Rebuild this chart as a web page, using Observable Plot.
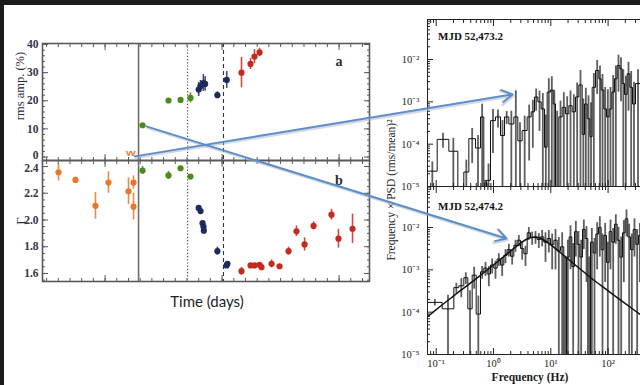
<!DOCTYPE html>
<html><head><meta charset="utf-8">
<script src="https://cdn.jsdelivr.net/npm/d3@7"></script>
<script src="https://cdn.jsdelivr.net/npm/@observablehq/plot@0.6"></script>
<style>
html,body{margin:0;padding:0;background:#fff;overflow:hidden;}
#wrap{position:relative;width:640px;height:385px;background:#fff;overflow:hidden;}
.abs{position:absolute;}
.abs svg{max-width:none !important;}
.lbl{position:absolute;white-space:nowrap;line-height:1;}
.rot{transform:translate(-50%,-50%) rotate(-90deg);}
.ctr{transform:translate(-50%,-50%);}
.lft{transform:translate(0,-50%);}
</style></head><body><div id="wrap"></div>
<script>
// ---------------- Panel a : rms amplitude (%) ----------------
const rmsOrangeT = [52473.0, 52473.4];
const rmsOrange = [0.4, 0.4];                 // upper limits, drawn as "v"
const rmsGreenT = [52474.2, 52476.42, 52477.45, 52478.3];
const rmsGreen = [11.3, 20.1, 20.3, 21.0];
const rmsGreenErr = [0.4, 0.4, 0.4, 1.8];
const rmsNavyT = [52479.0, 52479.15, 52479.4, 52479.55, 52480.6, 52481.4];
const rmsNavy = [24.0, 25.2, 26.3, 26.0, 22.0, 27.4];
const rmsNavyErr = [2.5, 2.0, 3.0, 2.5, 1.2, 3.0];
const rmsRedT = [52482.66, 52483.43, 52483.77, 52484.2];
const rmsRed = [30.0, 33.1, 35.7, 37.2];
const rmsRedErr = [5.4, 2.0, 2.5, 1.5];

// ---------------- Panel b : photon index Γ ----------------
const gamOrangeT = [52467.02, 52468.47, 52470.18, 52471.29, 52473.0, 52473.43, 52473.43];
const gamOrange = [2.357, 2.30, 2.106, 2.28, 2.215, 2.28, 2.10];
const gamOrangeErr = [0.065, 0.02, 0.1, 0.08, 0.1, 0.05, 0.1];
const gamGreenT = [52474.2, 52476.42, 52477.45, 52478.3];
const gamGreen = [2.37, 2.333, 2.387, 2.325];
const gamGreenErr = [0.03, 0.03, 0.015, 0.015];
const gamNavyT = [52479.0, 52479.16, 52479.33, 52479.41, 52479.44, 52480.6, 52481.46, 52481.38];
const gamNavy = [2.09, 2.067, 1.976, 1.95, 1.92, 1.767, 1.672, 1.66];
const gamNavyErr = [0.01, 0.01, 0.01, 0.01, 0.01, 0.03, 0.015, 0.015];
const gamRedT = [52482.66, 52483.43, 52483.77, 52484.2, 52484.37, 52485.23, 52485.91, 52486.68, 52487.36, 52488.05, 52488.82, 52490.35, 52490.95, 52492.15];
const gamRed = [1.617, 1.66, 1.66, 1.665, 1.647, 1.672, 1.654, 1.767, 1.916, 1.817, 1.956, 2.04, 1.86, 1.934];
const gamRedErr = [0.03, 0.01, 0.01, 0.015, 0.015, 0.03, 0.01, 0.03, 0.04, 0.05, 0.03, 0.04, 0.07, 0.11];

// state transitions (MJD) and their line styles
const transitionT = [52473.86, 52478.05, 52481.12];
const transitionDash = [null, "1.2,2", "4,3"];
const transitionColor = ["#6b6b6b", "#444", "#333"];

const stateColor = {orange: "#e8772a", green: "#4c8b1b", navy: "#1d2b5c", red: "#c42a1f"};
const timeDomain = [52465.65, 52493.6];
const rmsTicks = [0, 10, 20, 30, 40];
const gamTicks = [1.6, 1.8, 2.0, 2.2, 2.4];

// ---------------- PSD, MJD 52,473.2 ----------------
const psdTopEdges = [0.0705, 0.1040, 0.1662, 0.2385, 0.3034, 0.3711, 0.4851, 0.5931, 0.6780, 0.7550,
  0.8864, 1.084, 1.325, 1.556, 1.852, 2.264, 2.659, 3.164, 3.869, 4.544,
  5.194, 5.938, 6.789, 7.764, 8.643, 9.88, 11.0, 12.08, 13.81, 15.79,
  18.05, 20.64, 23.60, 26.98, 30.84, 35.27, 38.73, 43.13, 48.01, 52.72,
  60.28, 68.92, 75.69, 84.24, 93.78, 104.4, 116.2, 129.3, 143.9, 160.3,
  176.0, 193.3, 215.2, 239.5, 266.7, 300.8, 367.6, 449.6, 549.5];
const psdTopVal = [2.3e-5, 1.3e-4, 6.8e-5, 0, 2.2e-5, 1.35e-4, 8.1e-5, 4.4e-4, 0, 1.4e-5,
  3.6e-4, 4.4e-4, 1.6e-4, 4.4e-4, 3.0e-4, 4.4e-4, 1.2e-4, 2.1e-4, 4.4e-4, 5.8e-4,
  1.3e-3, 1.0e-3, 6.8e-4, 8.5e-5, 1.7e-3, 1.9e-3, 8.9e-4, 0, 4.4e-4, 7.4e-4,
  5.2e-4, 8.1e-4, 5.8e-4, 1.3e-3, 2.5e-3, 1.7e-4, 8.9e-4, 4.0e-4, 1.5e-4, 2.2e-3,
  5.5e-3, 3.5e-3, 1.9e-3, 6.8e-4, 4.4e-4, 6.8e-4, 1.7e-3, 3.5e-3, 7.2e-3, 6.0e-3,
  2.7e-3, 1.5e-3, 4.6e-3, 2.2e-3, 8.9e-4, 2.7e-3, 3.0e-3, 2.0e-3];
const psdTopErr = [1.5e-5, 5e-5, 7e-5, 1e-5, 2e-5, 1e-4, 8e-5, 4.4e-4, 1.4e-5, 2e-5,
  3e-4, 2e-4, 2e-4, 1.5e-4, 3e-4, 1.4e-3, 2e-4, 2.5e-4, 4e-4, 5e-4,
  7e-4, 8e-4, 9e-4, 4e-4, 1.8e-3, 2e-3, 1e-3, 6e-4, 6e-4, 9e-4,
  8e-4, 1e-3, 9e-4, 1.5e-3, 3e-3, 1e-3, 1.2e-3, 1e-3, 8e-4, 2.5e-3,
  4e-3, 3.5e-3, 2.5e-3, 1.5e-3, 1.5e-3, 1.5e-3, 2.5e-3, 3.5e-3, 5.5e-3, 5e-3,
  3e-3, 2.5e-3, 4e-3, 3e-3, 2e-3, 3e-3, 3e-3, 3e-3];

// ---------------- PSD, MJD 52,474.2 ----------------
const psdBotEdges = [0.0705, 0.1271, 0.2031, 0.2483, 0.3034, 0.3565, 0.4244, 0.4982, 0.5931, 0.6780,
  0.7750, 0.8864, 1.0135, 1.159, 1.325, 1.515, 1.732, 1.981, 2.264, 2.588,
  2.959, 3.383, 3.869, 4.423, 5.057, 5.782, 6.610, 7.557, 8.643, 9.88,
  11.30, 12.92, 14.77, 16.88, 18.79, 20.92, 23.29, 25.92, 28.85, 32.12,
  35.75, 39.80, 44.30, 49.31, 54.89, 61.10, 68.01, 75.69, 84.24, 93.78,
  104.4, 116.2, 129.3, 143.9, 160.3, 178.4, 198.6, 221.0, 246.0, 273.8,
  304.8, 339.2, 377.6, 449.6, 549.5];
const psdBotVal = [1.7e-4, 1.2e-4, 3.8e-4, 4.2e-4, 6.5e-4, 1.2e-4, 7.5e-4, 9e-5, 9e-4, 1.1e-3,
  8e-4, 1.3e-3, 1.1e-3, 1.8e-3, 1.3e-3, 2.2e-3, 3.0e-3, 2.1e-3, 3.8e-3, 5.0e-3,
  3.2e-3, 2.4e-3, 7.5e-3, 5.8e-3, 6.0e-3, 5.2e-3, 6.0e-3, 4.5e-3, 5.5e-3, 4.0e-3,
  5.0e-3, 2.8e-3, 3.5e-3, 0, 2.0e-3, 6.0e-3, 1.2e-3, 8.0e-3, 4.0e-3, 2.0e-3,
  9.0e-3, 5.5e-3, 0, 4.5e-3, 2.5e-3, 7.0e-3, 1.0e-2, 3.0e-3, 6.5e-3, 1.5e-3,
  8.0e-3, 4.5e-3, 1.2e-2, 5.0e-3, 2.0e-3, 7.5e-3, 1.6e-2, 6.0e-3, 3.0e-3, 9.0e-3,
  4.0e-3, 6.5e-3, 5.0e-3, 3.0e-3];
const psdBotErr = [3e-5, 1.3e-4, 1e-4, 2e-4, 2e-4, 2e-4, 4e-4, 1.5e-4, 3e-4, 4e-4,
  4e-4, 5e-4, 5e-4, 6e-4, 6e-4, 8e-4, 1e-3, 8e-4, 1.2e-3, 1.5e-3,
  1.5e-3, 1.2e-3, 2.5e-3, 2e-3, 2e-3, 2e-3, 2.5e-3, 3e-3, 3e-3, 3e-3,
  4e-3, 3e-3, 4e-3, 2e-3, 3e-3, 5e-3, 3e-3, 6e-3, 4e-3, 3e-3,
  6e-3, 5e-3, 2e-3, 5e-3, 3e-3, 6e-3, 8e-3, 4e-3, 6e-3, 3e-3,
  7e-3, 5e-3, 8e-3, 5e-3, 4e-3, 7e-3, 1e-2, 6e-3, 4e-3, 7e-3,
  5e-3, 6e-3, 5e-3, 4e-3];

// Lorentzian model curve
const modelF = [0.0705, 0.1, 0.2, 0.5, 1, 2, 3, 4, 5, 6, 8, 10, 15, 20, 30, 50, 100, 200, 400, 549.5];
const modelP = [7.8e-5, 1.15e-4, 2.4e-4, 6.2e-4, 1.3e-3, 2.8e-3, 4.3e-3, 5.5e-3, 5.9e-3, 5.8e-3, 4.8e-3, 3.9e-3, 2.5e-3, 1.8e-3, 1.15e-3, 6.5e-4, 3.2e-4, 1.6e-4, 8e-5, 5.8e-5];

const psdYTicks = [1e-5, 1e-4, 1e-3, 1e-2];
const freqTicks = [0.1, 1, 10, 100];

// arrows linking the light curve points to the PSDs
const links = [
  {t: 52473.2, v: 0, psd: "top", f: 2.15, p: 1.5e-3},
  {t: 52474.2, v: 11.3, psd: "bot", f: 1.69, p: 5.5e-3}
];

// ======================================================
const wrap = document.getElementById("wrap");
const FLOOR = 1e-9;
const sup = {"-": "⁻", "0": "⁰", "1": "¹", "2": "²", "3": "³", "4": "⁴", "5": "⁵"};
const pow10 = d => "10" + String(Math.round(Math.log10(d))).split("").map(c => sup[c]).join("");

function place(el, left, top, w, h) {
  const d = document.createElement("div");
  d.className = "abs"; d.style.left = left + "px"; d.style.top = top + "px";
  d.style.width = w + "px"; d.style.height = h + "px";
  d.appendChild(el); wrap.appendChild(d); return d;
}
function label(text, x, y, style, cls) {
  const d = document.createElement("div");
  d.className = "lbl " + cls;
  d.style.left = x + "px"; d.style.top = y + "px";
  Object.assign(d.style, style);
  d.textContent = text; wrap.appendChild(d); return d;
}
const none = () => "";
// inward-pointing ticks: draw outward ticks shifted inside the frame
function ticks(fn, anchors, values, size, color) {
  return anchors.map(a => {
    const shift = {left: {dx: size}, right: {dx: -size}, top: {dy: size}, bottom: {dy: -size}}[a];
    return fn(values, {anchor: a, tickSize: size, tickPadding: 0, tickFormat: none, label: null, color, strokeWidth: 1, ...shift});
  });
}
const serifBold = {fontFamily: "Liberation Serif, serif", fontWeight: "bold"};
function range(a, b, s) { const r = []; for (let v = a; v <= b + 1e-9; v += s) r.push(+v.toFixed(4)); return r; }

const pts = (T, V, E) => T.map((t, i) => ({t, v: V[i], e: E ? E[i] : 0}));
function stateMarks(sets) {
  const m = [];
  for (const [col, data] of sets) {
    m.push(Plot.ruleX(data, {x: "t", y1: d => d.v - d.e, y2: d => d.v + d.e, stroke: stateColor[col], strokeWidth: 1.6, strokeOpacity: 0.85}));
    m.push(Plot.dot(data, {x: "t", y: "v", r: 3.1, fill: stateColor[col], stroke: "none"}));
  }
  return m;
}
function transitionMarks() {
  return transitionT.map((t, i) => Plot.ruleX([t], {stroke: transitionColor[i], strokeWidth: i === 0 ? 1.6 : 1.1, strokeDasharray: transitionDash[i]}));
}
const dayMinor = range(52466, 52493, 1);
const dayMajor = [52471, 52481, 52491];
const lcAxisColor = "#5a5a5a";
const lcLabel = {tickSize: 0, tickPadding: 4, label: null, fontSize: 11.5, ...serifBold, color: "#34344a"};
const plotStyle = {background: "transparent", overflow: "visible", maxWidth: "none"};

// ---------- panel a ----------
const panelA = Plot.plot({
  width: 379, height: 161, marginLeft: 42, marginRight: 10, marginTop: 43, marginBottom: 1,
  x: {domain: timeDomain}, y: {domain: [-1.24, 40.36]},
  style: plotStyle,
  marks: [
    ...transitionMarks(),
    Plot.text(pts(rmsOrangeT, rmsOrange), {x: "t", y: "v", text: () => "v", fill: stateColor.orange, fontSize: 9, fontWeight: "bold", lineAnchor: "bottom"}),
    ...stateMarks([["green", pts(rmsGreenT, rmsGreen, rmsGreenErr)], ["navy", pts(rmsNavyT, rmsNavy, rmsNavyErr)], ["red", pts(rmsRedT, rmsRed, rmsRedErr)]]),
    Plot.frame({stroke: lcAxisColor, strokeWidth: 1.6}),
    ...ticks(Plot.axisY, ["left", "right"], rmsTicks, 6, lcAxisColor),
    ...ticks(Plot.axisY, ["left", "right"], range(0, 40, 2), 3, lcAxisColor),
    ...ticks(Plot.axisX, ["top", "bottom"], dayMinor, 3, lcAxisColor),
    ...ticks(Plot.axisX, ["top", "bottom"], dayMajor, 6, lcAxisColor),
    Plot.axisY(rmsTicks.slice(1), {anchor: "left", ...lcLabel}),
    Plot.axisY(rmsTicks.slice(0, 1), {anchor: "left", ...lcLabel, dy: -1.5})
  ]
});
place(panelA, 0, 0, 379, 161);

// ---------- panel b ----------
const panelB = Plot.plot({
  width: 379, height: 141, marginLeft: 42, marginRight: 10, marginTop: 10, marginBottom: 10,
  x: {domain: timeDomain}, y: {domain: [1.54, 2.445]},
  style: plotStyle,
  marks: [
    ...transitionMarks(),
    ...stateMarks([["orange", pts(gamOrangeT, gamOrange, gamOrangeErr)], ["green", pts(gamGreenT, gamGreen, gamGreenErr)], ["navy", pts(gamNavyT, gamNavy, gamNavyErr)], ["red", pts(gamRedT, gamRed, gamRedErr)]]),
    Plot.frame({stroke: lcAxisColor, strokeWidth: 1.6}),
    ...ticks(Plot.axisY, ["left", "right"], gamTicks, 6, lcAxisColor),
    ...ticks(Plot.axisY, ["left", "right"], range(1.55, 2.4, 0.05), 3, lcAxisColor),
    ...ticks(Plot.axisX, ["top", "bottom"], dayMinor, 3, lcAxisColor),
    ...ticks(Plot.axisX, ["top", "bottom"], dayMajor, 6, lcAxisColor),
    Plot.axisY(gamTicks.slice(0, -1), {anchor: "left", ...lcLabel, tickFormat: d => d.toFixed(1)}),
    Plot.axisY(gamTicks.slice(-1), {anchor: "left", ...lcLabel, dy: 1.5, tickFormat: d => d.toFixed(1)})
  ]
});
place(panelB, 0, 150, 379, 141);

// ---------- PSD panels ----------
const decMinor = [];
for (let k = -6; k <= 3; k++) for (let m = 2; m <= 9; m++) decMinor.push(m * Math.pow(10, k));
const fMinor = decMinor.filter(v => v > 0.0705 && v < 549.5);
function psdPlot({edges, vals, errs, yMax, mt, mb, h, xLabels, model}) {
  const stepData = edges.map((e, i) => ({f: e, p: Math.max(vals[Math.min(i, vals.length - 1)], FLOOR)}));
  const errData = vals.map((v, i) => ({f: Math.sqrt(edges[i] * edges[i + 1]), lo: Math.max(v - errs[i], FLOOR), hi: v + errs[i]}));
  const yMinor = decMinor.filter(v => v > 1e-5 && v < yMax);
  return Plot.plot({
    width: 280, height: h, marginLeft: 47, marginRight: 10, marginTop: mt, marginBottom: mb,
    x: {type: "log", domain: [0.0705, 549.5]},
    y: {type: "log", domain: [1e-5, yMax]},
    style: plotStyle,
    marks: [
      Plot.ruleX(errData, {x: "f", y1: "lo", y2: "hi", stroke: "#5e5e5e", strokeWidth: 1.8, clip: true}),
      Plot.line(stepData, {x: "f", y: "p", curve: "step-after", stroke: "#111", strokeWidth: 1, clip: true}),
      model ? Plot.line(model, {x: "f", y: "p", curve: "monotone-x", stroke: "#111", strokeWidth: 1.5, clip: true}) : null,
      Plot.frame({stroke: "#222", strokeWidth: 1}),
      ...ticks(Plot.axisY, ["left"], psdYTicks, 6, "#222"),
      ...ticks(Plot.axisY, ["left"], yMinor, 3, "#222"),
      ...ticks(Plot.axisX, ["top", "bottom"], freqTicks, 6, "#222"),
      ...ticks(Plot.axisX, ["top", "bottom"], fMinor, 3, "#222"),
      Plot.axisY(psdYTicks, {anchor: "left", tickSize: 0, tickPadding: 8, label: null, fontSize: 10.5, fontFamily: "Liberation Serif, serif", color: "#222", tickFormat: pow10}),
      xLabels ? Plot.axisX(freqTicks, {anchor: "bottom", tickSize: 0, tickPadding: 5, label: null, fontSize: 10.5, fontFamily: "Liberation Serif, serif", color: "#222", tickFormat: pow10}) : null
    ]
  });
}
const psdTop = psdPlot({edges: psdTopEdges, vals: psdTopVal, errs: psdTopErr, yMax: 0.0881, mt: 19, mb: 5, h: 191, xLabels: false});
place(psdTop, 380, 0, 280, 191);
const psdBot = psdPlot({edges: psdBotEdges, vals: psdBotVal, errs: psdBotErr, yMax: 0.0931, mt: 6, mb: 31, h: 205, xLabels: true,
  model: modelF.map((f, i) => ({f, p: modelP[i]}))});
place(psdBot, 380, 180, 280, 205);

// ---------- text labels ----------
const serifTxt = {fontFamily: "Liberation Serif, serif", color: "#2c2c3c"};
label("rms amp. (%)", 20, 86, {...serifTxt, fontSize: "12.5px"}, "rot");
label("Γ", 20, 221, {...serifTxt, fontSize: "13px"}, "rot");
label("a", 339, 62, {...serifTxt, fontSize: "14px", fontWeight: "bold"}, "ctr");
label("b", 339, 181, {...serifTxt, fontSize: "14px", fontWeight: "bold"}, "ctr");
label("Time (days)", 207, 301, {fontFamily: "Lato, 'Open Sans', sans-serif", fontSize: "15px", color: "#1e1e1e"}, "ctr");
label("Frequency × PSD (rms/mean)²", 392, 190, {fontFamily: "Liberation Serif, serif", fontSize: "11.5px", color: "#1a1a1a"}, "rot");
label("Frequency (Hz)", 530, 378, {fontFamily: "Liberation Serif, serif", fontSize: "11.5px", fontWeight: "bold", color: "#1a1a1a"}, "ctr");
label("MJD 52,473.2", 438, 36, {fontFamily: "Liberation Serif, serif", fontSize: "11px", fontWeight: "bold", color: "#111"}, "lft");
label("MJD 52,474.2", 438, 206, {fontFamily: "Liberation Serif, serif", fontSize: "11px", fontWeight: "bold", color: "#111"}, "lft");

// ---------- dark border strips ----------
const stripTop = document.createElement("div");
Object.assign(stripTop.style, {position: "absolute", left: "0px", top: "0px", width: "640px", height: "5px", background: "#1b1b1b"});
wrap.appendChild(stripTop);
const stripLeft = document.createElement("div");
Object.assign(stripLeft.style, {position: "absolute", left: "0px", top: "0px", width: "4px", height: "385px", background: "#1b1b1b"});
wrap.appendChild(stripLeft);

// ---------- arrows overlay (positions from each plot's own scales) ----------
const offs = {a: [0, 0], top: [380, 0], bot: [380, 180]};
const ax = panelA.scale("x"), ay = panelA.scale("y");
const arrowData = links.map(l => {
  const P = l.psd === "top" ? psdTop : psdBot, o = offs[l.psd];
  return {
    x1: ax.apply(l.t) + offs.a[0], y1: ay.apply(l.v) + offs.a[1],
    x2: P.scale("x").apply(l.f) + o[0], y2: P.scale("y").apply(l.p) + o[1]
  };
});
const overlay = Plot.plot({
  width: 640, height: 385, margin: 0,
  x: {domain: [0, 640], range: [0, 640], axis: null},
  y: {domain: [0, 385], range: [0, 385], axis: null},
  style: {background: "transparent", maxWidth: "none"},
  marks: [
    Plot.arrow(arrowData, {x1: "x1", y1: "y1", x2: "x2", y2: "y2", stroke: "#a9b4c2", strokeWidth: 2.4, strokeOpacity: 0.5, dx: 1, dy: 1.5, headLength: 9, insetStart: 4}),
    Plot.arrow(arrowData, {x1: "x1", y1: "y1", x2: "x2", y2: "y2", stroke: "#5c8fc9", strokeWidth: 2, headLength: 9, insetStart: 4})
  ]
});
overlay.style.pointerEvents = "none";
place(overlay, 0, 0, 640, 385);
</script></body></html>
